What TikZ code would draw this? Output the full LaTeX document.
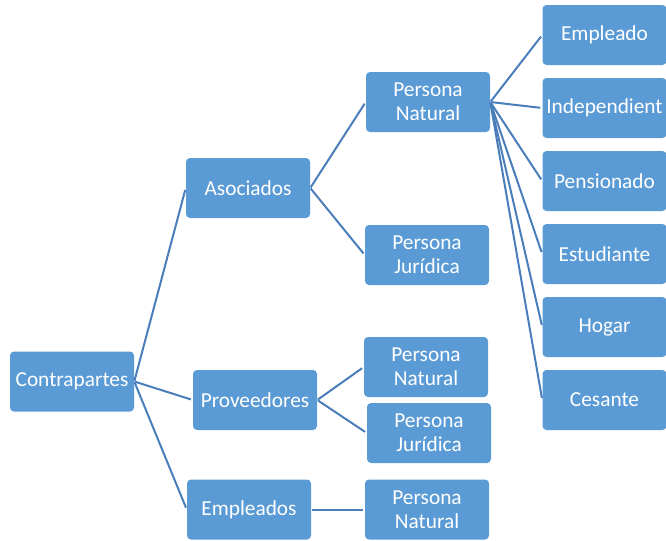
\documentclass[tikz,border=0pt]{standalone}
\usepackage{fontspec}
\setmainfont{Carlito}
\definecolor{boxBlue}{HTML}{5B9BD5}
\definecolor{lineBlue}{HTML}{4A7EBB}
\tikzset{
  box/.style  = {fill=boxBlue, rounded corners=3pt, text=white,
                 minimum width=93pt, minimum height=45pt, inner sep=1pt,
                 align=center, font=\fontsize{16}{18}\selectfont},
  link/.style = {lineBlue, line width=1.5pt, shorten <=0.5pt, shorten >=1.5pt},
}

\begin{document}
\begin{tikzpicture}[x=0.75pt,y=-0.75pt]
  \useasboundingbox (0,0) rectangle (666,540);
  % root and first level
  \node[box] (contra) at (72,381.5) {Contrapartes};
  \node[box] (asoc)   at (248,188)   {Asociados};
  \node[box] (prov)   at (255,400)   {Proveedores};
  \node[box] (empl)   at (249,509.5) {Empleados};
  % second level
  \node[box] (asocNat) at (428,102)   {Persona\\Natural};
  \node[box] (asocJur) at (427,255)   {Persona\\Jurídica};
  \node[box] (provNat) at (426,367)   {Persona\\Natural};
  \node[box] (provJur) at (429,433)   {Persona\\Jurídica};
  \node[box] (emplNat) at (427,509.5) {Persona\\Natural};
  % third level
  \node[box] (empleado) at (604.5,35)  {Empleado};
  \node[box] (indep)    at (604.5,108) {Independient};
  \node[box] (pens)     at (604.5,181) {Pensionado};
  \node[box] (estud)    at (604.5,254) {Estudiante};
  \node[box] (hogar)    at (604.5,327) {Hogar};
  \node[box] (cesante)  at (604.5,400) {Cesante};
  % connectors
  \foreach \c in {asoc,prov,empl} \draw[link] (contra.east) -- (\c.west);
  \draw[link] (asoc.east) -- (asocNat.west);
  \draw[link] (asoc.east) -- (asocJur.west);
  \draw[link] (prov.east) -- (provNat.west);
  \draw[link] (prov.east) -- (provJur.west);
  \draw[link] (empl.east) -- (emplNat.west);
  \foreach \c in {empleado,indep,pens,estud,hogar,cesante}
    \draw[link] (asocNat.east) -- (\c.west);
\end{tikzpicture}
\end{document}
